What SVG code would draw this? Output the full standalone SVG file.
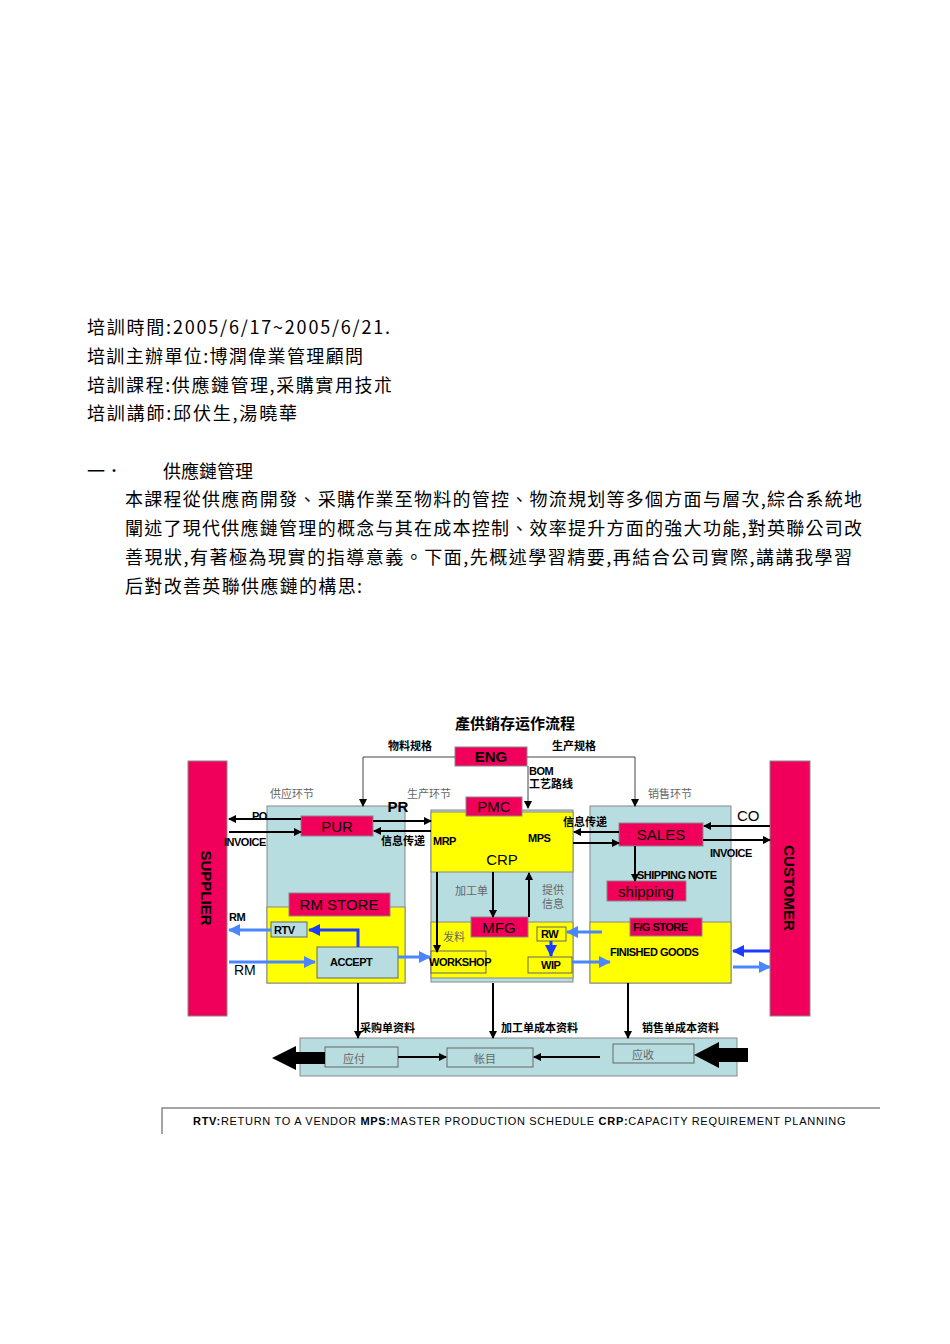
<svg xmlns="http://www.w3.org/2000/svg" width="950" height="1344" viewBox="0 0 950 1344">
<style>
.t{font-family:"Noto Sans CJK TC","Noto Sans CJK SC",sans-serif;font-size:18px;fill:#000}
.s{font-family:"Noto Sans CJK SC",serif;font-size:11px;fill:#666}
.b{font-family:"Liberation Sans",Arial,sans-serif;font-weight:bold;font-size:11px;fill:#000;letter-spacing:-0.5px}
.r{fill:#f0005a;stroke:#888;stroke-width:1}
.rt{font-family:"Liberation Sans",Arial,sans-serif;font-size:15px;fill:#000;text-anchor:middle}
.c{font-family:"Noto Sans CJK SC",sans-serif;font-size:11px;fill:#000;font-weight:bold}
.k{stroke:#000;stroke-width:2;fill:none}
.th{stroke:#444;stroke-width:1;fill:none}
.bl{stroke:#4a86ff;stroke-width:3;fill:none}
.db{stroke:#1a3cff;stroke-width:3;fill:none}
</style>
<defs>
<marker id="a" markerWidth="8" markerHeight="8" refX="7" refY="4" orient="auto" markerUnits="userSpaceOnUse"><path d="M0,0 L8,4 L0,8 z" fill="#000"/></marker>
<marker id="ab" markerWidth="12" markerHeight="12" refX="11" refY="6" orient="auto" markerUnits="userSpaceOnUse"><path d="M0,0 L12,6 L0,12 z" fill="#4a86ff"/></marker>
<marker id="ad" markerWidth="12" markerHeight="12" refX="11" refY="6" orient="auto" markerUnits="userSpaceOnUse"><path d="M0,0 L12,6 L0,12 z" fill="#1a3cff"/></marker>
</defs>
<rect width="950" height="1344" fill="#fff"/>
<g id="text">
<text class="t" x="87" y="334" textLength="303" lengthAdjust="spacing">培訓時間:2005/6/17~2005/6/21.</text>
<text class="t" x="87" y="363" textLength="276" lengthAdjust="spacing">培訓主辦單位:博潤偉業管理顧問</text>
<text class="t" x="87" y="392" textLength="305" lengthAdjust="spacing">培訓課程:供應鏈管理,采購實用技朮</text>
<text class="t" x="87" y="420" textLength="210" lengthAdjust="spacing">培訓講師:邱伏生,湯曉華</text>
<text class="t" x="87" y="478">一．</text>
<text class="t" x="163" y="478">供應鏈管理</text>
<text class="t" x="125" y="506" textLength="737" lengthAdjust="spacing">本課程從供應商開發、采購作業至物料的管控、物流規划等多個方面与層次,綜合系統地</text>
<text class="t" x="125" y="535" textLength="737" lengthAdjust="spacing">闡述了現代供應鏈管理的概念与其在成本控制、效率提升方面的強大功能,對英聯公司改</text>
<text class="t" x="125" y="564" textLength="727" lengthAdjust="spacing">善現狀,有著極為現實的指導意義。下面,先概述學習精要,再結合公司實際,講講我學習</text>
<text class="t" x="125" y="593" textLength="237" lengthAdjust="spacing">后對改善英聯供應鏈的構思:</text>
</g>
<g id="panels">
<rect x="267" y="806" width="138" height="177" fill="#b8dde0" stroke="#888"/>
<rect x="267" y="907" width="138" height="76" fill="#ffff00" stroke="#888"/>
<rect x="431" y="810" width="142" height="172" fill="#b8dde0" stroke="#888"/>
<rect x="431" y="812" width="142" height="60" fill="#ffff00" stroke="#888"/>
<rect x="431" y="922" width="142" height="56" fill="#ffff00" stroke="#888"/>
<rect x="590" y="806" width="141" height="177" fill="#b8dde0" stroke="#888"/>
<rect x="590" y="922" width="141" height="61" fill="#ffff00" stroke="#888"/>
<rect x="300" y="1038" width="437" height="38" fill="#b8dde0" stroke="#888"/>
</g>
<g id="title"><text x="515" y="729" font-family="Noto Sans CJK SC,serif" font-size="15" font-weight="bold" text-anchor="middle">產供銷存运作流程</text>
<text class="s" x="270" y="798" font-size="12">供应环节</text><text class="s" x="407" y="798" font-size="12">生产环节</text><text class="s" x="648" y="798" font-size="12">销售环节</text></g>
<g id="supplier"><rect class="r" x="188" y="761" width="39" height="255"/><text class="rt" transform="translate(201,888) rotate(90)" font-weight="bold">SUPPLIER</text></g>
<g id="customer"><rect class="r" x="770" y="761" width="40" height="255"/><text class="rt" transform="translate(784,888) rotate(90)" font-weight="bold">CUSTOMER</text></g>
<g id="eng"><rect class="r" x="455" y="747" width="72" height="19"/><text class="rt" x="491" y="762" font-weight="bold">ENG</text></g>
<g id="pmc"><rect class="r" x="466" y="797" width="56" height="19"/><text class="rt" x="494" y="812">PMC</text></g>
<g id="pur"><rect class="r" x="301" y="816" width="72" height="20"/><text class="rt" x="337" y="832">PUR</text></g>
<g id="rmstore"><rect class="r" x="289" y="893" width="101" height="23"/><text class="rt" x="339" y="910">RM STORE</text></g>
<g id="rtv"><rect x="271" y="922" width="36" height="15" fill="#b8dde0" stroke="#666"/><text class="b" x="274" y="934">RTV</text></g>
<g id="accept"><rect x="317" y="947" width="81" height="31" fill="#b8dde0" stroke="#666"/><text class="b" x="330" y="966">ACCEPT</text></g>
<g id="sales"><rect class="r" x="619" y="823" width="84" height="23"/><text class="rt" x="661" y="840">SALES</text></g>
<g id="shipping"><rect class="r" x="607" y="881" width="79" height="20"/><text class="rt" x="646" y="897">shipping</text></g>
<g id="fgstore"><rect class="r" x="630" y="918" width="72" height="18"/><text class="b" x="633" y="931" font-size="10">F/G STORE</text></g>
<g id="mfg"><rect class="r" x="471" y="917" width="57" height="20"/><text class="rt" x="499" y="933">MFG</text></g>
<g id="rw"><rect x="537" y="927" width="29" height="14" fill="#ffff00" stroke="#666"/><text class="b" x="541" y="938" font-size="10">RW</text></g>
<g id="wip"><rect x="528" y="957" width="44" height="16" fill="#ffff00" stroke="#666"/><text class="b" x="541" y="969" font-size="10">WIP</text></g>
<g id="workshop"><rect x="431" y="951" width="55" height="22" fill="#ffff00" stroke="#666"/><text class="b" x="429" y="966" font-size="9" font-weight="normal">WORKSHOP</text></g>
<g id="yingfu"><rect x="325" y="1047" width="73" height="20" fill="#b8dde0" stroke="#666"/><text class="s" x="343" y="1063" font-size="15">应付</text></g>
<g id="zhangmu"><rect x="447" y="1048" width="86" height="19" fill="#b8dde0" stroke="#666"/><text class="s" x="474" y="1063" font-size="15">帐目</text></g>
<g id="yingshou"><rect x="613" y="1044" width="81" height="19" fill="#b8dde0" stroke="#666"/><text class="s" x="632" y="1059" font-size="15">应收</text></g>
<g id="connectors">
<polyline class="th" points="455,757 363,757 363,806" marker-end="url(#a)"/>
<polyline class="th" points="527,757 635,757 635,806" marker-end="url(#a)"/>
<line class="th" x1="528" y1="766" x2="528" y2="808" marker-end="url(#a)"/>
<line class="k" x1="301" y1="819" x2="229" y2="819" marker-end="url(#a)"/>
<line class="k" x1="229" y1="832" x2="301" y2="832" marker-end="url(#a)"/>
<line class="k" x1="373" y1="821" x2="431" y2="821" marker-end="url(#a)"/>
<line class="k" x1="431" y1="831" x2="374" y2="831" marker-end="url(#a)"/>
<line class="k" x1="619" y1="832" x2="574" y2="832" marker-end="url(#a)"/>
<line class="k" x1="573" y1="843" x2="619" y2="843" marker-end="url(#a)"/>
<line class="k" x1="770" y1="826" x2="704" y2="826" marker-end="url(#a)"/>
<line class="k" x1="703" y1="840" x2="770" y2="840" marker-end="url(#a)"/>
<line class="k" x1="635" y1="846" x2="635" y2="881" marker-end="url(#a)"/>
<line class="k" x1="437" y1="872" x2="437" y2="952" marker-end="url(#a)"/>
<line class="k" x1="493" y1="872" x2="493" y2="917" marker-end="url(#a)"/>
<line class="k" x1="529" y1="917" x2="529" y2="873" marker-end="url(#a)"/>
<line class="k" x1="358" y1="983" x2="358" y2="1038" marker-end="url(#a)"/>
<line class="k" x1="493" y1="983" x2="493" y2="1038" marker-end="url(#a)"/>
<line class="k" x1="628" y1="983" x2="628" y2="1038" marker-end="url(#a)"/>
<line class="k" x1="398" y1="1057" x2="446" y2="1057" marker-end="url(#a)"/>
<line class="k" x1="600" y1="1057" x2="534" y2="1057" marker-end="url(#a)"/>
<polygon points="325,1052 296,1052 296,1046 272,1058 296,1070 296,1064 325,1064" fill="#000"/>
<polygon points="748,1048 719,1048 719,1042 694,1055 719,1068 719,1062 748,1062" fill="#000"/>
<line class="bl" x1="271" y1="930" x2="229" y2="930" marker-end="url(#ab)"/>
<polyline class="db" points="358,947 358,930 309,930" marker-end="url(#ad)"/>
<line class="bl" x1="229" y1="962" x2="315" y2="962" marker-end="url(#ab)"/>
<line class="bl" x1="398" y1="957" x2="430" y2="957" marker-end="url(#ab)"/>
<line class="bl" x1="602" y1="932" x2="567" y2="932" marker-end="url(#ab)"/>
<line class="db" x1="551" y1="941" x2="551" y2="956" stroke-width="2" marker-end="url(#ad)"/>
<line class="bl" x1="572" y1="962" x2="610" y2="962" marker-end="url(#ab)"/>
<line class="db" x1="770" y1="951" x2="733" y2="951" marker-end="url(#ad)"/>
<line class="bl" x1="733" y1="967" x2="770" y2="967" marker-end="url(#ab)"/>
</g>
<g id="labels">
<text class="c" x="388" y="750" font-size="10">物料规格</text>
<text class="c" x="552" y="750" font-size="10">生产规格</text>
<text class="b" x="529" y="775">BOM</text>
<text class="c" x="529" y="788">工艺路线</text>
<text class="b" x="252" y="820">PO</text>
<text class="b" x="224" y="846">INVOICE</text>
<text class="rt" x="398" y="812" font-weight="bold">PR</text>
<text class="c" x="381" y="845">信息传递</text>
<text class="b" x="433" y="845">MRP</text>
<text class="b" x="528" y="842">MPS</text>
<text x="502" y="865" font-family="Liberation Sans,sans-serif" font-size="15" text-anchor="middle">CRP</text>
<text class="c" x="563" y="826">信息传递</text>
<text x="737" y="821" font-family="Liberation Sans,sans-serif" font-size="15">CO</text>
<text class="b" x="710" y="857">INVOICE</text>
<text class="b" x="637" y="879">SHIPPING NOTE</text>
<text class="s" x="455" y="895">加工单</text>
<text class="s" x="542" y="894">提供</text>
<text class="s" x="542" y="908">信息</text>
<text class="s" x="443" y="941">发料</text>
<text class="b" x="610" y="956">FINISHED GOODS</text>
<text class="b" x="229" y="921">RM</text>
<text x="234" y="975" font-family="Liberation Sans,sans-serif" font-size="14">RM</text>
<text class="c" x="360" y="1032" font-size="13">采购单资料</text>
<text class="c" x="501" y="1032" font-size="13">加工单成本资料</text>
<text class="c" x="642" y="1032" font-size="13">销售单成本资料</text>
</g>
<g id="footer">
<polyline points="162,1134 162,1108 880,1108" fill="none" stroke="#888" stroke-width="1.5"/>
<text x="193" y="1125" font-family="Liberation Sans,sans-serif" font-size="11" letter-spacing="-0.5" textLength="652" lengthAdjust="spacing"><tspan font-weight="bold">RTV:</tspan>RETURN TO A VENDOR  <tspan font-weight="bold">MPS:</tspan>MASTER PRODUCTION SCHEDULE  <tspan font-weight="bold">CRP:</tspan>CAPACITY REQUIREMENT PLANNING</text>
</g>
</svg>
